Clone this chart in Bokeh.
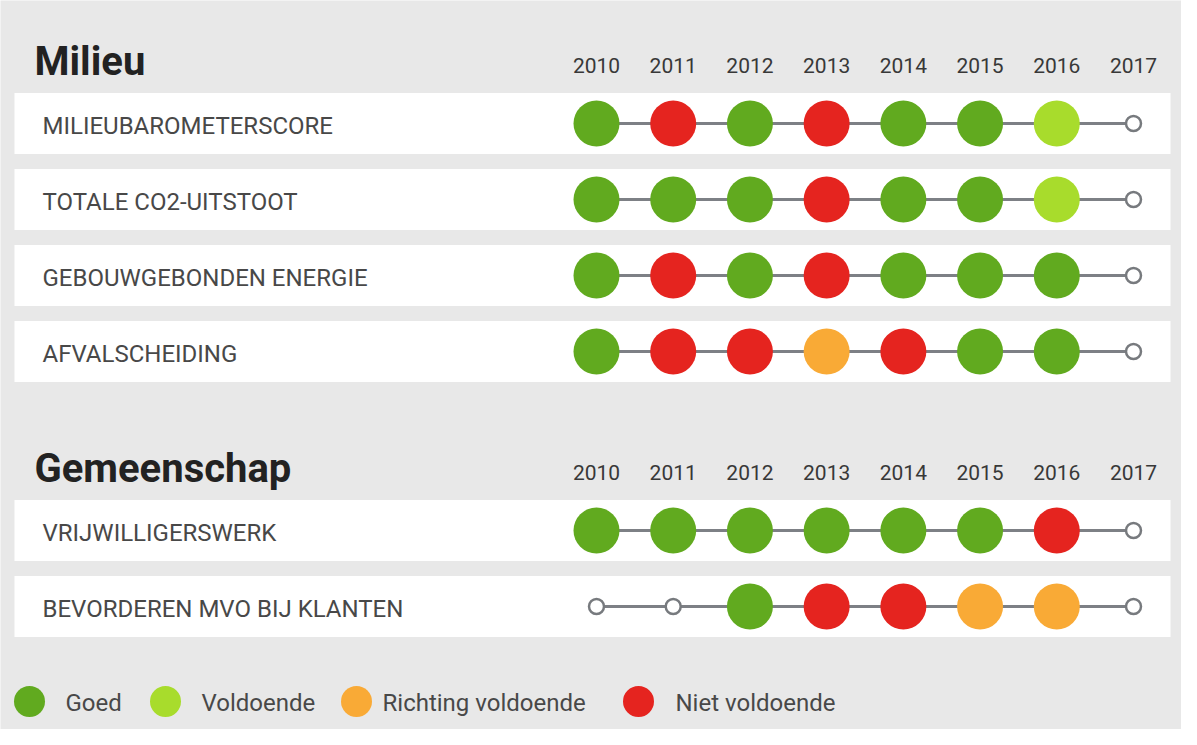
from bokeh.plotting import figure
from bokeh.models import Range1d, ColumnDataSource
from bokeh.core.properties import value
from bokeh.embed import file_html
from bokeh.resources import INLINE

# ---------------- data ----------------
years = [2010, 2011, 2012, 2013, 2014, 2015, 2016, 2017]
year_labels = ["2010", "2011", "2012", "2013", "2014", "2015", "2016", "2017"]

section_titles = ["Milieu", "Gemeenschap"]

milieu_rows = ["MILIEUBAROMETERSCORE", "TOTALE CO2-UITSTOOT",
               "GEBOUWGEBONDEN ENERGIE", "AFVALSCHEIDING"]
milieu_status = [
    ["Goed", "Niet voldoende", "Goed", "Niet voldoende", "Goed", "Goed", "Voldoende", ""],
    ["Goed", "Goed", "Goed", "Niet voldoende", "Goed", "Goed", "Voldoende", ""],
    ["Goed", "Niet voldoende", "Goed", "Niet voldoende", "Goed", "Goed", "Goed", ""],
    ["Goed", "Niet voldoende", "Niet voldoende", "Richting voldoende", "Niet voldoende", "Goed", "Goed", ""],
]

gemeenschap_rows = ["VRIJWILLIGERSWERK", "BEVORDEREN MVO BIJ KLANTEN"]
gemeenschap_status = [
    ["Goed", "Goed", "Goed", "Goed", "Goed", "Goed", "Niet voldoende", ""],
    ["", "", "Goed", "Niet voldoende", "Niet voldoende", "Richting voldoende", "Richting voldoende", ""],
]

legend_labels = ["Goed", "Voldoende", "Richting voldoende", "Niet voldoende"]
legend_colors = ["#61aa1f", "#a8dc2c", "#f9aa36", "#e5241f"]
status_color = dict(zip(legend_labels, legend_colors))

# ---------------- layout ----------------
W, H, OFF = 1181, 729, 8
X_FIRST, X_LAST = 604, 1141          # pixel position of first / last year
step = (X_LAST - X_FIRST) / (len(years) - 1)
x_start = years[0] - (X_FIRST - OFF) / step
x_end = x_start + W / step


def img_x(px):
    return x_start + (px - OFF) / step


BG = "#e8e8e8"
FONT = "Roboto"

p = figure(width=W, height=H, output_backend="svg", toolbar_location=None,
           x_range=Range1d(x_start, x_end), y_range=Range1d(H + OFF, OFF),
           x_axis_location=None, y_axis_location=None,
           background_fill_color=BG, border_fill_color=BG,
           outline_line_color=None, min_border=0)
p.grid.visible = False

sections = [(section_titles[0], milieu_rows, milieu_status),
            (section_titles[1], gemeenschap_rows, gemeenschap_status)]
section_offset = [0, 407]
row_step = 76

band_l, band_r = img_x(22), img_x(1178)

for (title, rows, status), off in zip(sections, section_offset):
    title_y = 69 + off
    years_y = 73 + off
    row_y = [131 + off + i * row_step for i in range(len(rows))]

    p.text(x=[img_x(42)], y=[title_y], text=[title],
           text_font=value(FONT), text_font_style="bold",
           text_font_size="40px", text_color="#222222",
           text_align="left", text_baseline="alphabetic")

    p.text(x=years, y=[years_y] * len(years), text=year_labels,
           text_font=value(FONT), text_font_size="21px", text_color="#383838",
           text_align="center", text_baseline="middle")

    # white row bands
    p.rect(x=[(band_l + band_r) / 2] * len(rows), y=row_y,
           width=band_r - band_l, height=61,
           fill_color="white", line_color=None)

    # row labels
    p.text(x=[img_x(50)] * len(rows), y=[y + 2 for y in row_y], text=rows,
           text_font=value(FONT), text_font_size="24px", text_color="#484848",
           text_align="left", text_baseline="middle")

    # connecting lines
    p.multi_line(xs=[[years[0], years[-1]] for _ in rows],
                 ys=[[y, y] for y in row_y],
                 line_color="#7d8085", line_width=3)

    fx, fy, fc, ex, ey = [], [], [], [], []
    for y, st in zip(row_y, status):
        for yr, s in zip(years, st):
            if s:
                fx.append(yr); fy.append(y); fc.append(status_color[s])
            else:
                ex.append(yr); ey.append(y)

    p.scatter(source=ColumnDataSource(dict(x=fx, y=fy, c=fc)), x="x", y="y",
              size=46, fill_color="c", line_color=None)
    p.scatter(x=ex, y=ey, size=15, fill_color="white",
              line_color="#777a7e", line_width=2.5)

# legend
leg_marker_px = [37, 173, 364, 646]
leg_text_px = [73, 209, 390, 683]
leg_y = 709
p.scatter(x=[img_x(v) for v in leg_marker_px], y=[leg_y] * 4, size=31,
          fill_color=legend_colors, line_color=None)
p.text(x=[img_x(v) for v in leg_text_px], y=[leg_y + 1] * 4, text=legend_labels,
       text_font=value(FONT), text_font_size="24px", text_color="#484848",
       text_align="left", text_baseline="middle")

open("out.html", "w").write(file_html(p, INLINE))
